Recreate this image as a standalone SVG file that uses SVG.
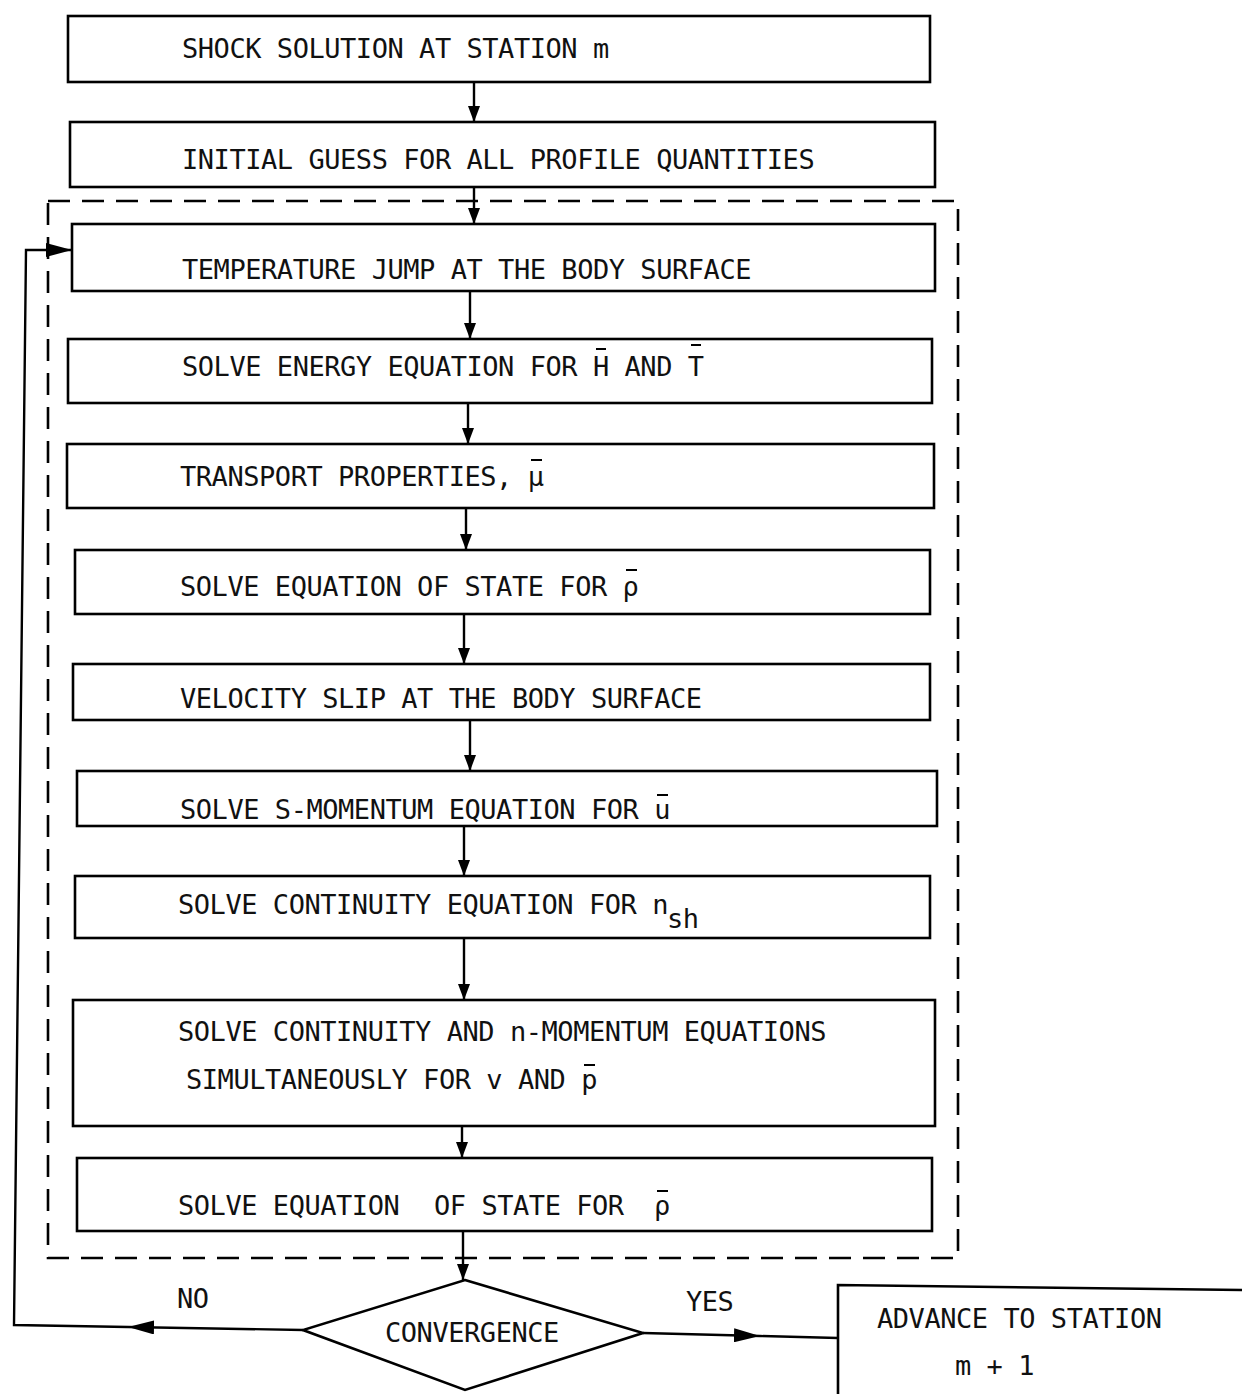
<svg xmlns="http://www.w3.org/2000/svg" width="1242" height="1394" viewBox="0 0 1242 1394">
<style>
.box{fill:none;stroke:#000;stroke-width:2.6}
.dash{fill:none;stroke:#000;stroke-width:2.6;stroke-dasharray:22 12}
.con{fill:none;stroke:#000;stroke-width:2.4}
.bar{stroke:#000;stroke-width:2}
text{font-family:"DejaVu Sans Mono","Liberation Mono",monospace;font-size:27px;letter-spacing:-0.45px;fill:#111}
</style>
<defs>
<marker id="ah" viewBox="0 0 16 12" markerWidth="16" markerHeight="12" refX="16" refY="6" orient="auto" markerUnits="userSpaceOnUse"><path d="M0,0 L16,6 L0,12 z" fill="#000"/></marker>
<marker id="ahs" viewBox="0 0 26 14" markerWidth="26" markerHeight="14" refX="26" refY="7" orient="auto" markerUnits="userSpaceOnUse"><path d="M0,0 L26,7 L0,14 z" fill="#000"/></marker>
</defs>
<rect width="1242" height="1394" fill="#fff"/>
<g id="loop-frame">
<rect class="dash" x="48" y="201" width="910" height="1057"/>
</g>
<g id="connectors">
<path class="con" d="M474,82 L474,122" marker-end="url(#ah)"/>
<path class="con" d="M474,187 L474,224" marker-end="url(#ah)"/>
<path class="con" d="M470,291 L470,339" marker-end="url(#ah)"/>
<path class="con" d="M468,403 L468,444" marker-end="url(#ah)"/>
<path class="con" d="M466,508 L466,550" marker-end="url(#ah)"/>
<path class="con" d="M464,614 L464,664" marker-end="url(#ah)"/>
<path class="con" d="M470,720 L470,771" marker-end="url(#ah)"/>
<path class="con" d="M464,826 L464,876" marker-end="url(#ah)"/>
<path class="con" d="M464,938 L464,1000" marker-end="url(#ah)"/>
<path class="con" d="M462,1126 L462,1158" marker-end="url(#ah)"/>
<path class="con" d="M463,1231 L463,1280" marker-end="url(#ah)"/>
<path class="con" d="M303,1330 L128,1327" marker-end="url(#ahs)"/>
<path class="con" d="M128,1327 L14,1325 L26,250 L72,250" marker-end="url(#ahs)"/>
<path class="con" d="M643,1333 L760,1336" marker-end="url(#ahs)"/>
<path class="con" d="M760,1336 L838,1338"/>
<text x="177" y="1308">NO</text>
<text x="686" y="1311">YES</text>
</g>
<g id="n1"><rect class="box" x="68" y="16" width="862" height="66"/>
<text x="182" y="58">SHOCK SOLUTION AT STATION m</text></g>
<g id="n2"><rect class="box" x="70" y="122" width="865" height="65"/>
<text x="182" y="169">INITIAL GUESS FOR ALL PROFILE QUANTITIES</text></g>
<g id="n3"><rect class="box" x="72" y="224" width="863" height="67"/>
<text x="182" y="279">TEMPERATURE JUMP AT THE BODY SURFACE</text></g>
<g id="n4"><rect class="box" x="68" y="339" width="864" height="64"/>
<text x="182" y="376">SOLVE ENERGY EQUATION FOR H AND T</text>
<line class="bar" x1="596" y1="349" x2="606" y2="349"/>
<line class="bar" x1="691" y1="345" x2="701" y2="345"/></g>
<g id="n5"><rect class="box" x="67" y="444" width="867" height="64"/>
<text x="180" y="486">TRANSPORT PROPERTIES, μ</text>
<line class="bar" x1="531" y1="460" x2="542" y2="460"/></g>
<g id="n6"><rect class="box" x="75" y="550" width="855" height="64"/>
<text x="180" y="596">SOLVE EQUATION OF STATE FOR ρ</text>
<line class="bar" x1="626" y1="570" x2="637" y2="570"/></g>
<g id="n7"><rect class="box" x="73" y="664" width="857" height="56"/>
<text x="180" y="708">VELOCITY SLIP AT THE BODY SURFACE</text></g>
<g id="n8"><rect class="box" x="77" y="771" width="860" height="55"/>
<text x="180" y="819">SOLVE S-MOMENTUM EQUATION FOR u</text>
<line class="bar" x1="657" y1="795" x2="668" y2="795"/></g>
<g id="n9"><rect class="box" x="75" y="876" width="855" height="62"/>
<text x="178" y="914">SOLVE CONTINUITY EQUATION FOR n</text>
<text x="667" y="928">sh</text></g>
<g id="n10"><rect class="box" x="73" y="1000" width="862" height="126"/>
<text x="178" y="1041">SOLVE CONTINUITY AND n-MOMENTUM EQUATIONS</text>
<text x="186" y="1089">SIMULTANEOUSLY FOR v AND p</text>
<line class="bar" x1="584" y1="1065" x2="595" y2="1065"/></g>
<g id="n11"><rect class="box" x="77" y="1158" width="855" height="73"/>
<text x="178" y="1215">SOLVE EQUATION<tspan x="434">OF STATE FOR</tspan><tspan x="654">ρ</tspan></text>
<line class="bar" x1="657" y1="1191" x2="668" y2="1191"/></g>
<g id="n12"><polygon class="box" points="465,1280 643,1333 465,1390 303,1330"/>
<text x="385" y="1342">CONVERGENCE</text></g>
<g id="n13"><path class="box" d="M1245,1290 L838,1285 L838,1397"/>
<text x="877" y="1328">ADVANCE TO STATION</text>
<text x="955" y="1375">m + 1</text></g>
</svg>
